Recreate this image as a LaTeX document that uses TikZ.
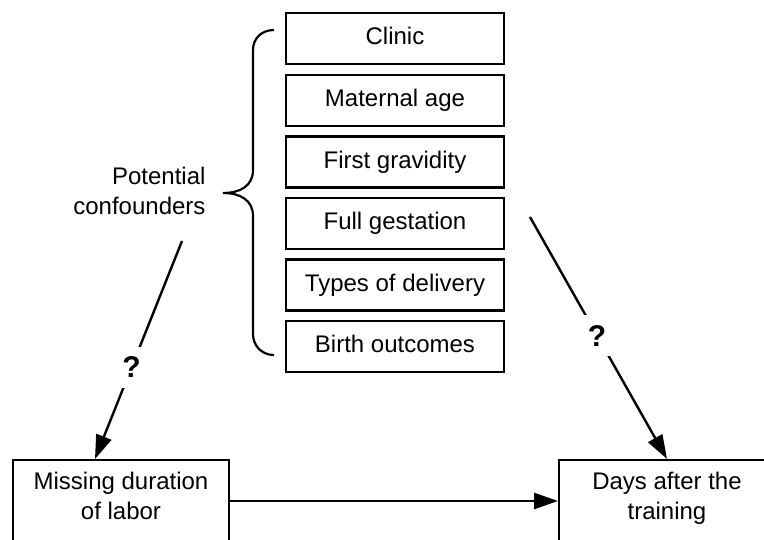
\documentclass[tikz,border=0pt]{standalone}
\usepackage{fontspec}
\setmainfont{Liberation Sans}
\usetikzlibrary{arrows.meta,positioning}

\begin{document}
\begin{tikzpicture}[
  x=1pt, y=-1pt,
  node distance=8.2pt,
  conf/.style={draw, line width=2.4pt, minimum width=217.5pt, minimum height=51pt, inner sep=0pt, text height=17.5pt, text depth=5pt, font=\fontsize{24}{30}\selectfont},
  var/.style={draw, line width=2.4pt, minimum width=215.5pt, anchor=north, align=center, inner xsep=4pt, inner ysep=12pt, font=\fontsize{24}{30}\selectfont},
  arr/.style={-{Triangle[length=24pt,width=16pt]}, line width=2.4pt},
  q/.style={fill=white, inner sep=10pt, font=\fontsize{30}{34}\selectfont\bfseries}
]
  \useasboundingbox (0,0) rectangle (764,539);
  \clip (0,0) rectangle (764,539);

  % the confounder stack
  \node[conf] (clinic) at (395,38.7) {Clinic};
  \node[conf, below=of clinic] (age) {Maternal age};
  \node[conf, below=of age] (gravidity) {First gravidity};
  \node[conf, below=of gravidity] (gestation) {Full gestation};
  \node[conf, below=of gestation] (delivery) {Types of delivery};
  \node[conf, below=of delivery] (birth) {Birth outcomes};

  \node[align=right, anchor=east, font=\fontsize{24}{30}\selectfont] (potential) at (209,191) {Potential\\confounders};
  \draw[line width=2.2pt] (274,30) .. controls (262,30) and (253,38) .. (253,50) -- (253,170)
    .. controls (253,186) and (240,193) .. (223,193)
    .. controls (240,193) and (253,200) .. (253,216) -- (253,334)
    .. controls (253,346) and (262,355) .. (274,355);

  % exposure and outcome
  \node[var] (missing) at (121,459) {Missing duration\\of labor\rule[-50pt]{0pt}{0pt}};
  \node[var] (days) at (667,459) {Days after the\\training\rule[-50pt]{0pt}{0pt}};

  \coordinate (potfoot) at (182,241);
  \coordinate (stackfoot) at (530,217);

  \draw[arr] (potfoot) -- node[q, pos=0.58]{?} ([xshift=-26pt]missing.north);
  \draw[arr] (stackfoot) -- node[q, pos=0.49]{?} (days.north);
  \draw[arr] ([yshift=-42pt]missing.north east) -- ([yshift=-42pt]days.north west);
\end{tikzpicture}
\end{document}
